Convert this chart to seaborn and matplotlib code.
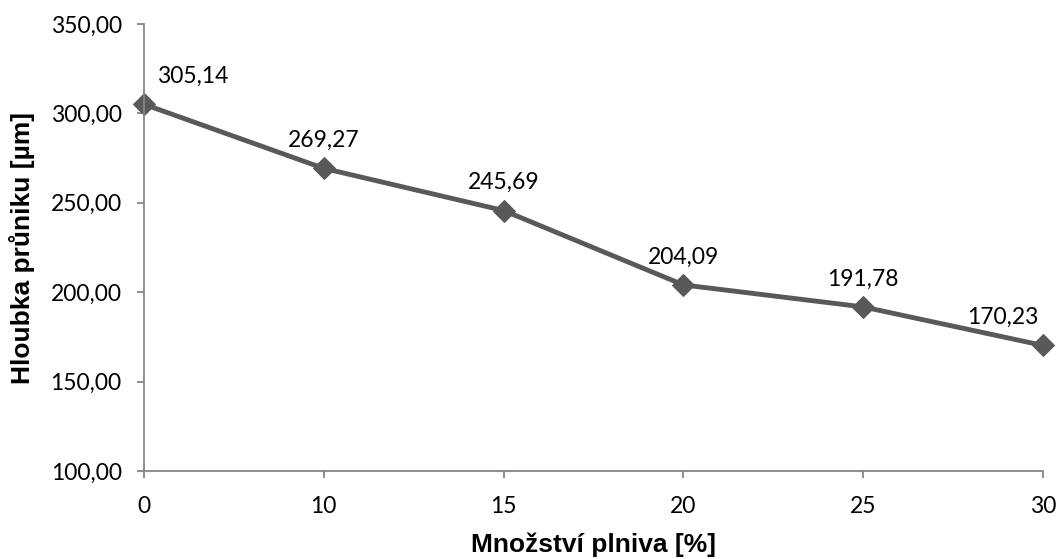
import matplotlib
matplotlib.use("Agg")
import matplotlib.pyplot as plt
import seaborn as sns
import pandas as pd

# Filler content vs. penetration depth
filler_pct = ["0", "10", "15", "20", "25", "30"]
depth_um = [305.14, 269.27, 245.69, 204.09, 191.78, 170.23]
y_ticks = [100, 150, 200, 250, 300, 350]

sns.set_theme(style="white")
plt.rcParams["font.family"] = ["Lato", "DejaVu Sans"]

df = pd.DataFrame({"pos": range(len(filler_pct)), "depth": depth_um})

fig = plt.figure(figsize=(10.6, 5.59), dpi=100)
ax = fig.add_axes([0.1358, 0.1574, 0.984 - 0.1358, 0.957 - 0.1574])

line_col = "#595959"
sns.lineplot(data=df, x="pos", y="depth", ax=ax, color=line_col, linewidth=3.5,
             marker="D", markersize=11.5, markeredgecolor=line_col,
             markerfacecolor=line_col, clip_on=False)

ax.set_xlim(0, len(filler_pct) - 1)
ax.set_ylim(100, 350)
ax.set_xticks(range(len(filler_pct)))
ax.set_xticklabels(filler_pct)
ax.set_yticks(y_ticks)
ax.set_yticklabels([f"{v:.2f}".replace(".", ",") for v in y_ticks])

spine_col = "#868686"
for side in ["top", "right"]:
    ax.spines[side].set_visible(False)
for side in ["left", "bottom"]:
    ax.spines[side].set_color(spine_col)
    ax.spines[side].set_linewidth(1.3)
ax.tick_params(axis="both", which="major", direction="out", length=5,
               width=1.3, color=spine_col, labelsize=16.5, labelcolor="black",
               bottom=True, left=True)
ax.tick_params(axis="y", pad=11)
ax.tick_params(axis="x", pad=13)
ax.grid(False)

# value labels above each point
offsets = {0: (35, 20), len(depth_um) - 1: (-29, 20)}
for i, v in enumerate(depth_um):
    dx, dy = offsets.get(i, (0, 20))
    ax.annotate(f"{v:.2f}".replace(".", ","), (i, v), xytext=(dx, dy),
                textcoords="offset points", ha="center", va="center",
                fontsize=16.5, color="black")

lab_font = dict(family=["Liberation Sans", "DejaVu Sans"], weight="bold",
                size=19, color="black")
ax.set_xlabel("Množství plniva [%]", fontdict=lab_font, labelpad=11)
ax.set_ylabel("Hloubka průniku [µm]", fontdict=lab_font, labelpad=11)

fig.savefig("out.png", dpi=100, facecolor="white")
